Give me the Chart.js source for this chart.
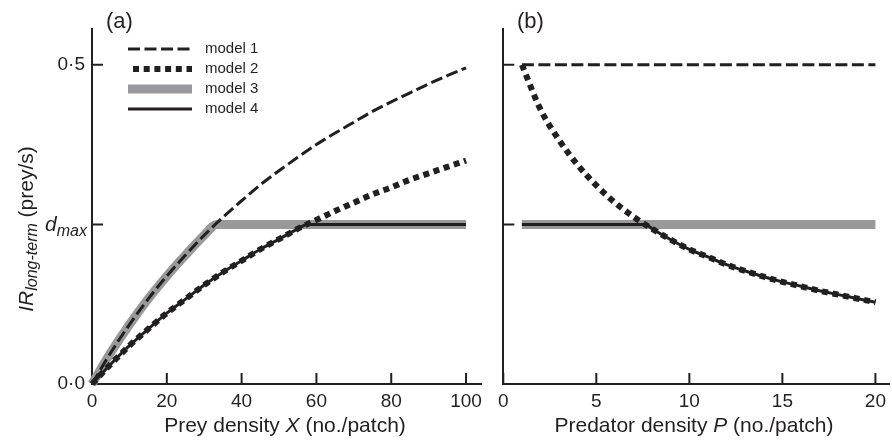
<!DOCTYPE html>
<html>
<head>
<meta charset="utf-8">
<script src="https://cdn.jsdelivr.net/npm/chart.js@4.4.0/dist/chart.umd.min.js"></script>
<style>
  html, body { margin: 0; padding: 0; background: #fff; }
  #wrap { position: relative; width: 892px; height: 441px; }
  #chartA { position: absolute; left: 0; top: 0; }
  #chartB { position: absolute; left: 492px; top: 0; }
</style>
</head>
<body>
<div id="wrap">
  <canvas id="chartA" width="492" height="441"></canvas>
  <canvas id="chartB" width="400" height="441"></canvas>
</div>
<script>
"use strict";

// panel (a): intake rate against prey density X
const preyX = [0, 5, 10, 15, 20, 25, 30, 35, 40, 45, 50, 55, 60, 65, 70, 75, 80, 85, 90, 95, 100];
const model1Prey = [0, 0.049, 0.093, 0.133, 0.169, 0.202, 0.233, 0.261, 0.287, 0.312, 0.334, 0.355, 0.375, 0.393, 0.410, 0.427, 0.442, 0.456, 0.470, 0.483, 0.495];
const model2Prey = [0, 0.031, 0.060, 0.086, 0.111, 0.133, 0.155, 0.175, 0.193, 0.211, 0.227, 0.243, 0.257, 0.271, 0.284, 0.297, 0.308, 0.320, 0.330, 0.340, 0.350];
const model3PreyX = [0, 5, 10, 15, 20, 25, 30, 33.4, 100];
const model3Prey = [0, 0.049, 0.093, 0.133, 0.169, 0.202, 0.233, 0.25, 0.25];
const model4PreyX = [0, 5, 10, 15, 20, 25, 30, 35, 40, 45, 50, 55, 57.5, 100];
const model4Prey = [0, 0.031, 0.060, 0.086, 0.111, 0.133, 0.155, 0.175, 0.193, 0.211, 0.227, 0.243, 0.25, 0.25];

// panel (b): intake rate against predator density P
const predX = [1, 2, 3, 4, 5, 6, 7, 8, 9, 10, 11, 12, 13, 14, 15, 16, 17, 18, 19, 20];
const model2Pred = [0.5, 0.43, 0.382, 0.343, 0.311, 0.284, 0.262, 0.243, 0.226, 0.211, 0.199, 0.187, 0.177, 0.168, 0.160, 0.153, 0.146, 0.140, 0.134, 0.128];
const flatPredX = [1, 20];
const model1Pred = [0.5, 0.5];
const model3Pred = [0.25, 0.25];
const model4PredX = [1, 7.65, 8, 9, 10, 11, 12, 13, 14, 15, 16, 17, 18, 19, 20];
const model4Pred = [0.25, 0.25, 0.243, 0.226, 0.211, 0.199, 0.187, 0.177, 0.168, 0.160, 0.153, 0.146, 0.140, 0.134, 0.128];

const modelLabels = ["model 1", "model 2", "model 3", "model 4"];
const preyTicks = [0, 20, 40, 60, 80, 100];
const predTicks = [0, 5, 10, 15, 20];
const rateTicks = [0, 0.25, 0.5];
const rateTickLabels = ["0\u00b70", "", "0\u00b75"];

const ink = "#231f20";
const grey = "#98999b";
const family = "'Liberation Sans', Arial, Helvetica, sans-serif";

const styles = [
  { borderColor: ink, borderWidth: 3, borderDash: [12, 4.5], order: 1 },
  { borderColor: ink, borderWidth: 6, borderDash: [6, 4.7], order: 2 },
  { borderColor: grey, borderWidth: 9, borderDash: [], order: 4 },
  { borderColor: ink, borderWidth: 3, borderDash: [], order: 3 },
];

const lineSet = (i, xs, ys) => ({
  label: modelLabels[i],
  data: xs.map((x, k) => ({ x: x, y: ys[k] })),
  pointRadius: 0,
  fill: false,
  clip: false,
  cubicInterpolationMode: "monotone",
  borderCapStyle: "butt",
  ...styles[i],
});

// mixed italic / subscript text
const drawRich = (ctx, parts, x, y, align) => {
  let total = 0;
  parts.forEach(p => {
    ctx.font = (p.italic ? "italic " : "") + p.size + "px " + family;
    p.w = ctx.measureText(p.t).width;
    total += p.w;
  });
  let cx = align === "center" ? x - total / 2 : align === "right" ? x - total : x;
  ctx.textAlign = "left";
  ctx.textBaseline = "alphabetic";
  parts.forEach(p => {
    ctx.font = (p.italic ? "italic " : "") + p.size + "px " + family;
    ctx.fillText(p.t, cx, y + (p.dy || 0));
    cx += p.w;
  });
};

const insideTicks = {
  id: "insideTicks",
  beforeDatasetsDraw(chart) {
    const { ctx, scales: { x, y } } = chart;
    ctx.save();
    ctx.strokeStyle = ink;
    ctx.lineWidth = 2;
    ctx.beginPath();
    x.ticks.forEach(t => {
      const px = x.getPixelForValue(t.value);
      ctx.moveTo(px, y.bottom);
      ctx.lineTo(px, y.bottom - 11);
    });
    y.ticks.forEach(t => {
      const py = y.getPixelForValue(t.value);
      ctx.moveTo(x.left, py);
      ctx.lineTo(x.left + 11, py);
    });
    ctx.stroke();
    ctx.restore();
  },
};

const panelA = {
  id: "panelA",
  afterDraw(chart) {
    const ctx = chart.ctx;
    ctx.save();
    ctx.fillStyle = ink;
    // legend
    const rows = [49, 69, 89, 109];
    chart.data.datasets.forEach((ds, i) => {
      ctx.strokeStyle = ds.borderColor;
      ctx.lineWidth = ds.borderWidth;
      ctx.setLineDash(ds.borderDash);
      ctx.beginPath();
      ctx.moveTo(i === 1 ? 133 : 128, rows[i]);
      ctx.lineTo(192, rows[i]);
      ctx.stroke();
      ctx.font = "15px " + family;
      ctx.textBaseline = "middle";
      ctx.fillText(ds.label, 205, rows[i]);
    });
    ctx.setLineDash([]);
    drawRich(ctx, [{ t: "(a)", size: 22 }], 106, 28, "left");
    drawRich(ctx, [{ t: "d", italic: true, size: 21 }, { t: "max", italic: true, size: 16, dy: 5 }], 87, 231, "right");
    drawRich(ctx, [{ t: "Prey density ", size: 21 }, { t: "X", italic: true, size: 21 }, { t: " (no./patch)", size: 21 }], 285, 432, "center");
    ctx.translate(33, 229);
    ctx.rotate(-Math.PI / 2);
    drawRich(ctx, [{ t: "IR", italic: true, size: 21 }, { t: "long-term", italic: true, size: 16, dy: 4 }, { t: " (prey/s)", size: 21 }], 0, 0, "center");
    ctx.restore();
  },
};

const panelB = {
  id: "panelB",
  afterDraw(chart) {
    const ctx = chart.ctx;
    ctx.save();
    ctx.fillStyle = ink;
    drawRich(ctx, [{ t: "(b)", size: 22 }], 25, 28, "left");
    drawRich(ctx, [{ t: "Predator density ", size: 21 }, { t: "P", italic: true, size: 21 }, { t: " (no./patch)", size: 21 }], 202, 432, "center");
    ctx.restore();
  },
};

const axisX = (max, tickValues, showLabels) => ({
  type: "linear",
  min: 0,
  max: max,
  afterBuildTicks: s => { s.ticks = tickValues.map(v => ({ value: v })); },
  afterFit: s => { s.height = 57; },
  grid: { display: false, drawTicks: false },
  border: { color: ink, width: 2 },
  ticks: { display: showLabels, color: ink, padding: 6, maxRotation: 0, font: { family: family, size: 19 } },
});

const axisY = (width, showLabels) => ({
  type: "linear",
  min: 0,
  max: 0.556,
  afterBuildTicks: s => { s.ticks = rateTicks.map(v => ({ value: v })); },
  afterFit: s => { s.width = width; },
  grid: { display: false, drawTicks: false },
  border: { color: ink, width: 2 },
  ticks: {
    display: showLabels,
    color: ink,
    padding: 7,
    font: { family: family, size: 19 },
    callback: (v, i) => rateTickLabels[i],
  },
});

const baseOptions = (xAxis, yAxis, padRight) => ({
  responsive: false,
  animation: false,
  layout: { padding: { top: 29, right: padRight, bottom: 0, left: 0 } },
  plugins: { legend: { display: false }, tooltip: { enabled: false } },
  scales: { x: xAxis, y: yAxis },
});

new Chart(document.getElementById("chartA"), {
  type: "line",
  data: {
    datasets: [
      lineSet(0, preyX, model1Prey),
      lineSet(1, preyX, model2Prey),
      lineSet(2, model3PreyX, model3Prey),
      lineSet(3, model4PreyX, model4Prey),
    ],
  },
  options: baseOptions(axisX(104, preyTicks, true), axisY(92, true), 11),
  plugins: [insideTicks, panelA],
});

new Chart(document.getElementById("chartB"), {
  type: "line",
  data: {
    datasets: [
      lineSet(0, flatPredX, model1Pred),
      lineSet(1, predX, model2Pred),
      lineSet(2, flatPredX, model3Pred),
      lineSet(3, model4PredX, model4Pred),
    ],
  },
  options: baseOptions(axisX(20.75, predTicks, true), axisY(10, false), 2),
  plugins: [insideTicks, panelB],
});
</script>
</body>
</html>
